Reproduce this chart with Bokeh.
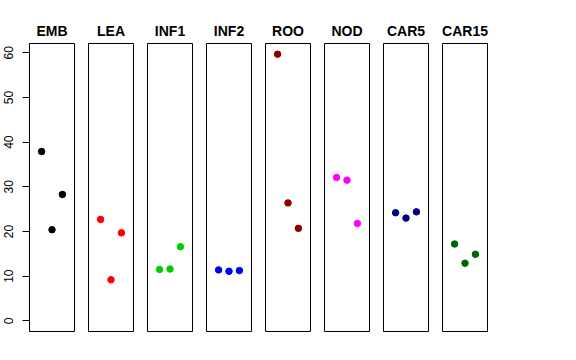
from bokeh.plotting import figure
from bokeh.layouts import row
from bokeh.models import Range1d, FixedTicker
from bokeh.embed import file_html
from bokeh.resources import INLINE

groups = ["EMB", "LEA", "INF1", "INF2", "ROO", "NOD", "CAR5", "CAR15"]
colors = ["black", "red", "#00CD00", "blue", "#8B0000", "magenta", "#000080", "#006400"]
reps = [1, 2, 3]
emb = [37.9, 20.4, 28.3]
lea = [22.7, 9.2, 19.7]
inf1 = [11.5, 11.6, 16.6]
inf2 = [11.4, 11.1, 11.25]
roo = [59.7, 26.4, 20.7]
nod = [32.1, 31.5, 21.8]
car5 = [24.2, 23.0, 24.4]
car15 = [17.2, 12.9, 14.9]
series = [emb, lea, inf1, inf2, roo, nod, car5, car15]
yticks = [0, 10, 20, 30, 40, 50, 60]

ymax = max(max(s) for s in series)
ypad = ymax * 0.04
figs = []
for i, (g, c, vals) in enumerate(zip(groups, colors, series)):
    first = i == 0
    p = figure(
        frame_width=45, frame_height=288,
        x_range=Range1d(-0.16, 4.16), y_range=Range1d(-ypad, ymax + ypad),
        output_backend="svg", toolbar_location=None,
        x_axis_location=None, y_axis_location="left" if first else None,
        min_border_left=7 if not first else 29, min_border_right=7,
        min_border_top=43, min_border_bottom=10,
        title=g,
    )
    p.title.align = "center"
    p.title.text_font = "Liberation Sans"
    p.title.text_font_size = "14px"
    p.title.text_font_style = "bold"
    p.title.text_color = "black"
    p.outline_line_color = "black"
    p.outline_line_width = 1
    p.outline_line_alpha = 1
    p.xgrid.visible = False
    p.ygrid.visible = False
    if first:
        ax = p.yaxis[0]
        ax.ticker = FixedTicker(ticks=yticks)
        ax.major_tick_out = 7
        ax.major_tick_in = 0
        ax.minor_tick_line_color = None
        ax.major_label_orientation = "vertical"
        ax.major_label_standoff = 9
        ax.major_label_text_font = "Liberation Sans"
        ax.major_label_text_font_size = "12px"
        ax.major_label_text_color = "black"
        ax.axis_line_color = "black"
    p.scatter(reps, vals, size=6.5, color=c)
    figs.append(p)

layout = row(*figs, spacing=0)
open("out.html", "w").write(file_html(layout, INLINE))
